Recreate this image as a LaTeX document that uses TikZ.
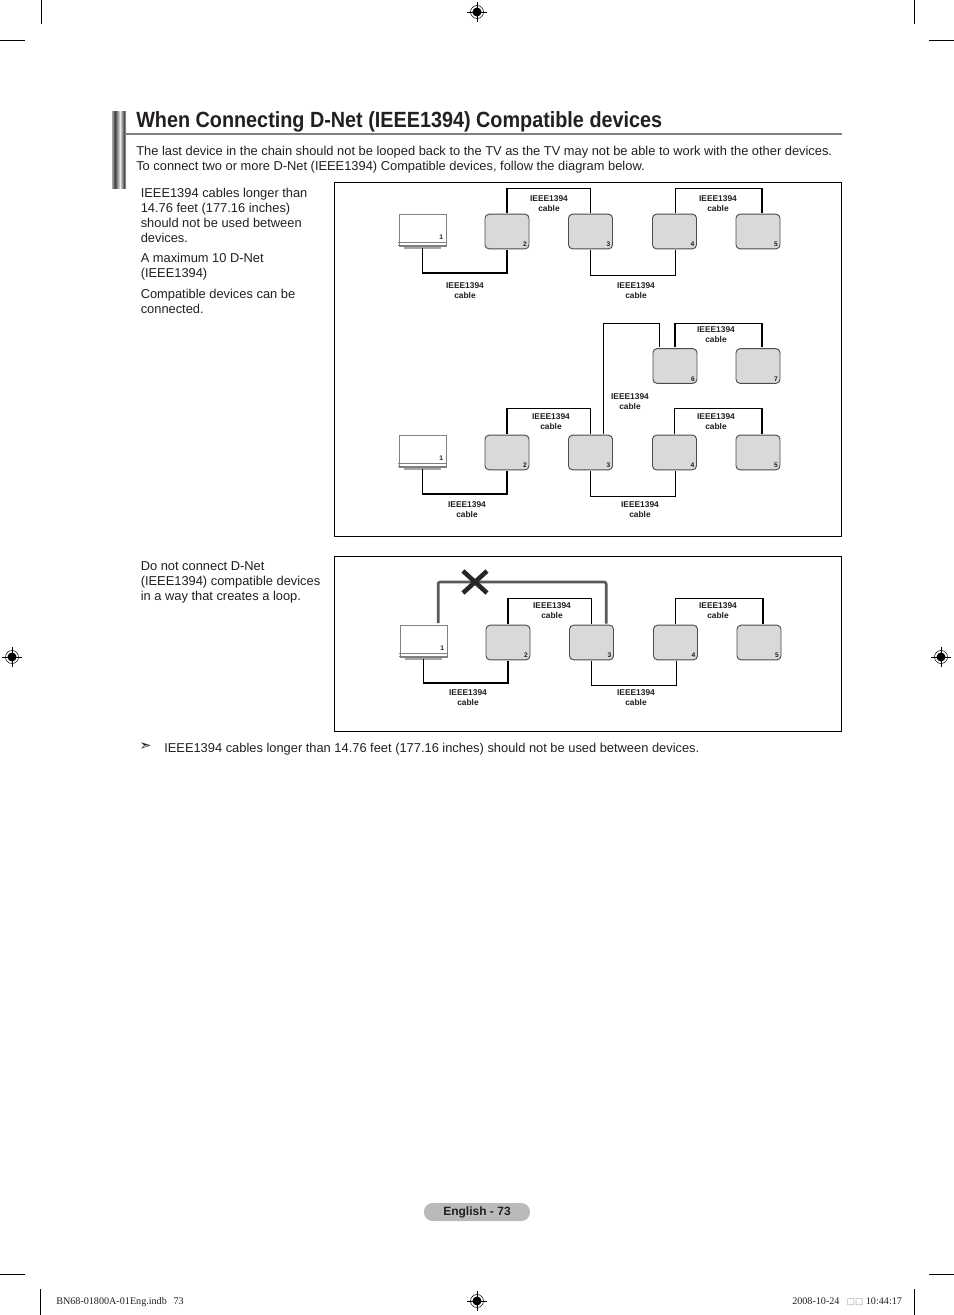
\documentclass[tikz,border=0pt]{standalone}
\usepackage{fontspec}
\setmainfont{Liberation Sans}
\newfontfamily\serifprint{Liberation Serif}
\newfontfamily\symbolprint{DejaVu Sans}
\newfontfamily\titleprint[FakeStretch=0.90]{Liberation Sans}
\usetikzlibrary{positioning,calc,shadings}
\definecolor{inkblack}{HTML}{231F20}
\definecolor{boxgray}{HTML}{D9D9D9}
\tikzset{
  devbox/.style={draw=black!70,fill=boxgray,line width=0.7pt,rounded corners=3pt,minimum width=33pt,minimum height=26pt,inner sep=0pt,outer sep=1.2pt},
  tvbox/.style={draw=black!50,fill=white,line width=0.5pt,minimum width=35pt,minimum height=24pt,inner sep=0pt,outer sep=1.5pt},
  numlabel/.style={font=\fontsize{5}{5}\selectfont\bfseries,text=inkblack,inner sep=2.6pt},
  cable/.style={draw=black,line width=0.85pt},
  loopcable/.style={draw=black!65,line width=2pt,rounded corners=1.5pt},
  cablelabel/.style={font=\fontsize{6.3}{7.5}\selectfont\bfseries,text=inkblack,align=center,inner sep=0pt},
  bodytext/.style={font=\fontsize{9.65}{11.25}\selectfont,text=inkblack,align=left,anchor=north west,inner sep=0pt},
  frame/.style={draw=black,line width=0.5pt},
  crop/.style={draw=black,line width=0.5pt},
  regmark/.pic={
    \draw[black,line width=0.4pt] (0,0) circle (6.5);
    \draw[black,line width=0.4pt] (-10,0) -- (10,0) (0,-10) -- (0,10);
    \fill[black] (0,0) circle (4.5);
  }
}
% one chain of devices
\newcommand{\devbox}[4]{%
  \node[devbox] (#1) at (#2,#3) {};
  \node[numlabel,anchor=south east] (#1num) at (#1.south east) {#4};
}
\newcommand{\devrow}[3]{%
  \node[tvbox] (tv#1) at (#2+23.5,#3+16) {};
  \draw[black!50,line width=0.4pt] ($(tv#1.south west)+(1,-6)$) -- ($(tv#1.south east)+(-1,-6)$);
  \draw[black!50,line width=0.4pt] ($(tv#1.south west)+(1,-3)$) -- ($(tv#1.south east)+(-1,-3)$);
  \draw[black!35,line width=1pt] ($(tv#1.south west)+(7,0)$) -- ($(tv#1.south east)+(-7,0)$);
  \node[numlabel,anchor=east] (tvnum#1) at ($(tv#1.east)+(-1,7)$) {1};
  \foreach \n/\dx in {2/108,3/191.5,4/275.5,5/359}{
    \devbox{d\n#1}{#2+\dx}{#3+17.5}{\n}
  }
}
\begin{document}
\begin{tikzpicture}[x=0.75pt,y=-0.75pt]
\useasboundingbox (0,0) rectangle (954,1315);
% crop marks
\foreach \xa/\ya/\xb/\yb in {41/0/41/24,0/40/25/40,914/0/914/24,929/40/954/40,0/1274/25/1274,40/1289/40/1315,914/1289/914/1315,929/1274/954/1274}{
  \draw[crop] (\xa,\ya) -- (\xb,\yb);
}
\foreach \x/\y in {477/12,12/657,941/657,477/1301}{
  \pic at (\x,\y) {regmark};
}
% heading
\shade[left color=black!35,right color=black!75] (112,111) rectangle (115,188);
\shade[left color=black!75,right color=black!8] (115,111) rectangle (120,188);
\shade[left color=black!8,right color=black!70] (120,111) rectangle (124,188);
\shade[left color=black!70,right color=black!25] (124,111) rectangle (126,188);
\node[anchor=base west,inner sep=0pt,font=\titleprint\fontsize{16.5}{18}\selectfont\bfseries,text=inkblack] (heading) at (136,127) {When Connecting D-Net (IEEE1394) Compatible devices};
\draw[black!50,line width=1pt] (126,134) -- (842,134);
\node[bodytext] (intro) at (136,146) {The last device in the chain should not be looped back to the TV as the TV may not be able to work with the other devices.\\To connect two or more D-Net (IEEE1394) Compatible devices, follow the diagram below.};
\node[bodytext] (noteA) at (140.5,188) {IEEE1394 cables longer than\\14.76 feet (177.16 inches)\\should not be used between\\devices.};
\node[bodytext] (noteB) at (140.5,253) {A maximum 10 D-Net\\(IEEE1394)};
\node[bodytext] (noteC) at (140.5,289) {Compatible devices can be\\connected.};
\node[bodytext] (noteD) at (140.5,561) {Do not connect D-Net\\(IEEE1394) compatible devices\\in a way that creates a loop.};
\node[bodytext,font=\symbolprint\fontsize{11}{11}\selectfont] (pointer) at (139,742) {➣};
\node[bodytext] (noteE) at (164,743) {IEEE1394 cables longer than 14.76 feet (177.16 inches) should not be used between devices.};
% frames
\draw[frame] (334,182) rectangle (841,536);
\draw[frame] (334,556) rectangle (841,731);
% first chain
\devrow{a}{399}{214}
\draw[cable] (tva.south) -- ++(0,25) -| (d2a.south);
\draw[cable] (d3a.south) -- ++(0,25) -| ([xshift=1pt]d4a.south);
\draw[cable] (d2a.north) -- ++(0,-24) -| (d3a.north);
\draw[cable] ([xshift=1pt]d4a.north) -- ++(0,-24) -| ([xshift=3pt]d5a.north);
% second chain
\devrow{b}{399}{435}
\devbox{d6b}{675}{366}{6}
\devbox{d7b}{758}{366}{7}
\draw[cable] (tvb.south) -- ++(0,25) -| (d2b.south);
\draw[cable] (d3b.south) -- ++(0,25) -| ([xshift=1pt]d4b.south);
\draw[cable] (d2b.north) -- ++(0,-25) -| (d3b.north);
\draw[cable] (d4b.north) -- ++(0,-25) -| ([xshift=3pt]d5b.north);
\draw[cable] ([xshift=9.5pt]d3b.north) -- ++(0,-110) -| ([xshift=-11.5pt]d6b.north);
\draw[cable] (d6b.north) -- ++(0,-24) -| ([xshift=3pt]d7b.north);
% third chain, with the loop
\devrow{c}{400}{625}
\draw[cable] (tvc.south) -- ++(0,24) -| (d2c.south);
\draw[cable] (d3c.south) -- ++(0,24) -| ([xshift=1pt]d4c.south);
\draw[cable] (d2c.north) -- ++(0,-25) -| (d3c.north);
\draw[cable] (d4c.north) -- ++(0,-25) -| ([xshift=3pt]d5c.north);
\draw[loopcable] ([xshift=11pt]tvc.north) -- ++(0,-41) -| ([xshift=11pt]d3c.north);
\coordinate (crossmid) at (475,582);
\draw[black!85,line width=3.4pt] ($(crossmid)+(-12,-11)$) -- ($(crossmid)+(12,11)$);
\draw[black!85,line width=3.4pt] ($(crossmid)+(-12,11)$) -- ($(crossmid)+(12,-11)$);
% cable labels
\foreach \nm/\x/\y in {la/549/203.5,lb/718/203.5,lc/465/290.5,ld/636/290.5,le/716/334.5,lf/630/401.5,lg/551/421.5,lh/716/421.5,li/467/509.5,lj/640/509.5,lk/552/610.5,ll/718/610.5,lm/468/697.5,ln/636/697.5}{
  \node[cablelabel] (\nm) at (\x,\y) {IEEE1394\\cable};
}
% footer
\node[fill=black!27,rounded corners=6.5pt,minimum width=79.5pt,minimum height=13.5pt,inner sep=0pt,font=\fontsize{9}{10}\selectfont\bfseries,text=inkblack] (pagetag) at (477,1212) {\raisebox{-1pt}{English - 73}};
\node[anchor=base west,inner sep=0pt,font=\serifprint\fontsize{7.6}{8}\selectfont,text=inkblack] (slugA) at (56,1304) {BN68-01800A-01Eng.indb\hspace{5pt}73};
\node[anchor=base west,inner sep=0pt,font=\serifprint\fontsize{7.6}{8}\selectfont,text=inkblack] (slugB) at (792,1304) {2008-10-24\hspace{5.5pt}{\symbolprint\color{black!40}\fontsize{6.5}{6}\selectfont □□}\hspace{2pt}10:44:17};
\end{tikzpicture}
\end{document}
